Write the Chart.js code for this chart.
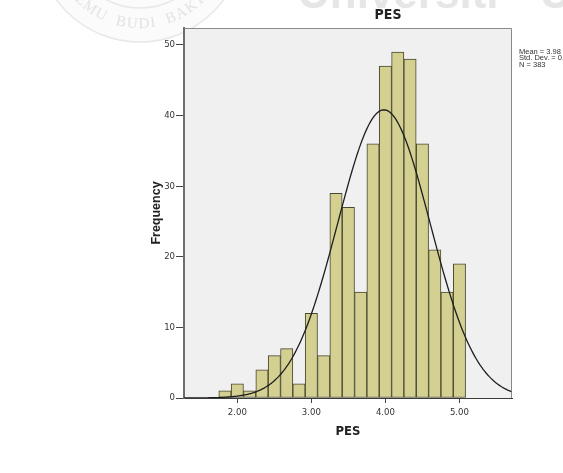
<!DOCTYPE html>
<html>
<head>
<meta charset="utf-8">
<script src="https://cdn.jsdelivr.net/npm/chart.js@4.4.1/dist/chart.umd.min.js"></script>
<style>
  html, body { margin: 0; padding: 0; background: #ffffff; }
  #wrap { position: relative; width: 563px; height: 473px; }
  canvas { display: block; }
</style>
</head>
<body>
<div id="wrap"><canvas id="c" width="563" height="473"></canvas></div>
<script>
// Histogram of PES scores: bin centres (width 1/6) and their counts
const binCentres = [1.833, 2.000, 2.167, 2.333, 2.500, 2.667, 2.833, 3.000, 3.167, 3.333,
                    3.500, 3.667, 3.833, 4.000, 4.167, 4.333, 4.500, 4.667, 4.833, 5.000];
const frequencies = [1, 2, 1, 4, 6, 7, 2, 12, 6, 29,
                     27, 15, 36, 47, 49, 48, 36, 21, 15, 19];
const binWidth = 1 / 6;

// Axis ticks
const xTickValues = [2, 3, 4, 5];
const xTickLabels = ['2.00', '3.00', '4.00', '5.00'];
const yTickValues = [0, 10, 20, 30, 40, 50];
const xRange = [1.28, 5.71];
const yRange = [0, 52.4];

// Descriptive statistics shown beside the plot
const statMean = 3.98;
const statStdDev = 0.624;
const statN = 383;
const statLines = [
  'Mean = ' + statMean.toFixed(2),
  'Std. Dev. = ' + statStdDev.toFixed(3),
  'N = ' + statN
];

// Normal curve with the same mean / s.d., scaled to counts per bin
const normalCurve = [];
for (let x = xRange[0]; x <= xRange[1] + 1e-9; x += 0.02) {
  const z = (x - statMean) / statStdDev;
  const y = statN * binWidth * Math.exp(-0.5 * z * z) / (statStdDev * Math.sqrt(2 * Math.PI));
  normalCurve.push({ x: x, y: y });
}

const histPoints = binCentres.map((c, i) => ({ x: c, y: frequencies[i] }));

const narrow = '"Liberation Sans Narrow", "DejaVu Sans Condensed", "Arial Narrow", "Liberation Sans", sans-serif';

// Faint university watermark + plot backdrop
const backdrop = {
  id: 'backdrop',
  beforeDraw(chart) {
    const ctx = chart.ctx;
    ctx.save();
    // seal
    const cx = 140, cy = -62;
    ctx.fillStyle = '#fbfbfb';
    ctx.beginPath(); ctx.arc(cx, cy, 104, 0, Math.PI * 2); ctx.fill();
    ctx.strokeStyle = '#e8e8e8';
    ctx.lineWidth = 1.5;
    ctx.beginPath(); ctx.arc(cx, cy, 104, 0, Math.PI * 2); ctx.stroke();
    ctx.beginPath(); ctx.arc(cx, cy, 70, 0, Math.PI * 2); ctx.stroke();
    ctx.font = '15px "Liberation Serif", serif';
    ctx.fillStyle = '#e2e2e2';
    ctx.textAlign = 'center';
    ctx.textBaseline = 'alphabetic';
    const sealText = 'ILMU  BUDI  BAKTI';
    const r = 90;
    const widths = [...sealText].map(ch => ctx.measureText(ch).width + 1.5);
    const total = widths.reduce((a, b) => a + b, 0);
    let theta = Math.PI / 2 + (total / 2) / r;
    [...sealText].forEach((ch, i) => {
      const a = theta - (widths[i] / 2) / r;
      ctx.save();
      ctx.translate(cx + r * Math.cos(a), cy + r * Math.sin(a));
      ctx.rotate(a - Math.PI / 2);
      ctx.fillText(ch, 0, 0);
      ctx.restore();
      theta -= widths[i] / r;
    });
    // banner text
    ctx.font = 'bold 44px "Liberation Sans", Arial, sans-serif';
    ctx.fillStyle = '#e6e6e6';
    ctx.textAlign = 'left';
    ctx.fillText('Universiti', 298, 8);
    ctx.fillText('Utara Malaysia', 540, 8);

    // plot background and frame
    const a = chart.chartArea;
    ctx.fillStyle = '#f0f0f0';
    ctx.fillRect(a.left, a.top, a.right - a.left, a.bottom - a.top);
    ctx.strokeStyle = '#8a8a8a';
    ctx.lineWidth = 1;
    ctx.beginPath();
    ctx.moveTo(a.left, a.top + 0.5);
    ctx.lineTo(a.right - 0.5, a.top + 0.5);
    ctx.lineTo(a.right - 0.5, a.bottom);
    ctx.stroke();
    ctx.restore();
  },
  afterDraw(chart) {
    const ctx = chart.ctx;
    ctx.save();
    ctx.fillStyle = '#222222';
    ctx.textAlign = 'center';
    ctx.textBaseline = 'middle';
    ctx.font = 'bold 14px ' + narrow;
    ctx.fillText('PES', 388, 15.5);
    ctx.textAlign = 'left';
    ctx.font = '7.5px "Liberation Sans", Arial, sans-serif';
    ctx.fillStyle = '#333333';
    statLines.forEach((t, i) => ctx.fillText(t, 519, 52 + i * 6.4));
    ctx.restore();
  }
};

new Chart(document.getElementById('c'), {
  data: {
    datasets: [
      {
        type: 'line',
        data: normalCurve,
        borderColor: '#1e1e1e',
        borderWidth: 1.3,
        pointRadius: 0,
        tension: 0,
        order: 0
      },
      {
        type: 'bar',
        data: histPoints,
        backgroundColor: 'rgb(211,208,146)',
        borderColor: 'rgb(72,72,46)',
        borderWidth: 1,
        borderSkipped: false,
        barPercentage: 1,
        categoryPercentage: 1,
        order: 1
      }
    ]
  },
  options: {
    responsive: false,
    animation: false,
    devicePixelRatio: 1,
    layout: { padding: { left: 140, right: 51, top: 28, bottom: 30 } },
    plugins: {
      legend: { display: false },
      tooltip: { enabled: false },
      title: { display: false }
    },
    scales: {
      x: {
        type: 'linear',
        position: 'bottom',
        offset: false,
        min: xRange[0],
        max: xRange[1],
        afterBuildTicks: s => { s.ticks = xTickValues.map(v => ({ value: v })); },
        afterFit: s => { s.height = 45; },
        ticks: {
          autoSkip: false,
          maxRotation: 0,
          padding: 4,
          color: '#333333',
          font: { family: narrow, size: 9.5 },
          callback: (v, i) => xTickLabels[i]
        },
        grid: { offset: false, drawOnChartArea: false, drawTicks: true, tickLength: 5, tickColor: '#444444' },
        border: { color: '#3a3a3a', width: 1 },
        title: {
          display: true,
          text: 'PES',
          color: '#222222',
          font: { family: narrow, size: 13, weight: 'bold' },
          padding: { top: 0, bottom: 4 }
        }
      },
      y: {
        type: 'linear',
        position: 'left',
        min: yRange[0],
        max: yRange[1],
        afterBuildTicks: s => { s.ticks = yTickValues.map(v => ({ value: v })); },
        afterFit: s => { s.width = 44; },
        ticks: {
          padding: 1,
          color: '#333333',
          font: { family: narrow, size: 9.5 },
          callback: v => String(v)
        },
        grid: { drawOnChartArea: false, drawTicks: true, tickLength: 8, tickColor: '#444444' },
        border: { color: '#6e6e6e', width: 2 },
        title: {
          display: true,
          text: 'Frequency',
          color: '#222222',
          font: { family: '"Liberation Sans", Arial, sans-serif', size: 12.5, weight: 'bold' },
          padding: { top: 9, bottom: 0 }
        }
      }
    }
  },
  plugins: [backdrop]
});
</script>
</body>
</html>
